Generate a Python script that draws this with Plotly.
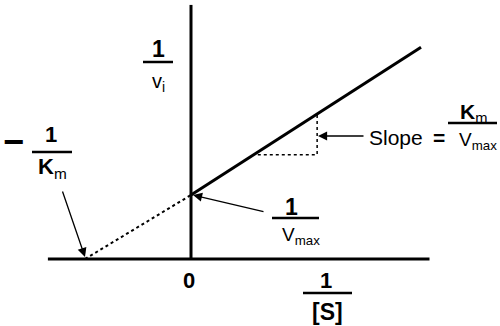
import plotly.graph_objects as go

# ---- data (reciprocal units) ----
neg_inv_km = -1.0          # x-intercept  (-1/Km)
inv_vmax = 1.0             # y-intercept  (1/Vmax)
line_end_x = 2.17          # last drawn 1/[S]
line_end_y = 3.31          # 1/vi at last drawn point
tri_x = [0.63, 1.19, 1.19]     # slope triangle (left, corner, top)
tri_y = [1.63, 1.63, 2.29]
axis_x_min, axis_x_max = -1.35, 2.25
axis_y_max = 3.97

W, H = 500, 326
X0PX, Y0PX, XS, YS = 191, 259, 106, 64
xr = [-X0PX / XS, (W - X0PX) / XS]
yr = [-(H - Y0PX) / YS, Y0PX / YS]

def px(x):  # pixel -> data (x)
    return (x - X0PX) / XS

def py(y):  # pixel -> data (y)
    return (Y0PX - y) / YS

FONT = "Liberation Sans, Arial, sans-serif"
fig = go.Figure()

# axes
fig.add_trace(go.Scatter(x=[axis_x_min, axis_x_max], y=[0, 0], mode="lines",
                         line=dict(color="black", width=3), hoverinfo="skip"))
fig.add_trace(go.Scatter(x=[0, 0], y=[0, axis_y_max], mode="lines",
                         line=dict(color="black", width=3), hoverinfo="skip"))
# solid Lineweaver-Burk line
fig.add_trace(go.Scatter(x=[0, line_end_x], y=[inv_vmax, line_end_y], mode="lines",
                         line=dict(color="black", width=3), hoverinfo="skip"))
# dotted extrapolation
fig.add_trace(go.Scatter(x=[neg_inv_km, 0], y=[0, inv_vmax], mode="lines",
                         line=dict(color="black", width=2, dash="dot"), hoverinfo="skip"))
# slope triangle
fig.add_trace(go.Scatter(x=tri_x, y=tri_y, mode="lines",
                         line=dict(color="black", width=1.5, dash="dot"), hoverinfo="skip"))

# fraction bars (pixel positions)
bars = [(32, 72, 152, 2.5), (143, 173, 62, 2.5), (272, 319, 218, 2.5),
        (448, 497, 123, 2.5), (303, 352, 293, 2.5)]
for x1, x2, y, w in bars:
    fig.add_shape(type="line", x0=px(x1), x1=px(x2), y0=py(y), y1=py(y),
                  line=dict(color="black", width=w))

def txt(s, x, y, size, bold=False, xa="center", ya="middle"):
    fig.add_annotation(x=px(x), y=py(y), text=(f"<b>{s}</b>" if bold else s),
                       showarrow=False, xanchor=xa, yanchor=ya,
                       font=dict(family=FONT, size=size, color="black"))

# -1/Km
txt("−", 13, 141, 36, bold=True)
txt("1", 51, 134, 22, bold=True)
txt("K<sub><span style='font-weight:normal'>m</span></sub>", 52, 168, 22, bold=True)
# 1/vi
txt("1", 158, 49, 23, bold=True)
txt("v<sub>i</sub>", 158, 82, 20)
# 1/Vmax
txt("1", 291, 207, 23, bold=True)
txt("V<sub>max</sub>", 301, 236, 19)
# Slope = Km/Vmax
txt("Slope", 396, 137, 21)
txt("=", 439, 137, 21, bold=True)
txt("K<sub><span style='font-weight:normal'>m</span></sub>", 473, 113, 21, bold=True)
txt("V<sub>max</sub>", 478, 141, 19)
# axis labels
txt("0", 189, 280, 22, bold=True)
txt("1", 326, 280, 22, bold=True)
txt("[S]", 327, 312, 23, bold=True)

# arrows
arrows = [((365, 136), (318, 136)), ((265, 212), (193, 195)), ((62, 190), (85, 257))]
for (tx, ty), (hx, hy) in arrows:
    fig.add_annotation(x=px(hx), y=py(hy), ax=px(tx), ay=py(ty), axref="x", ayref="y",
                       xref="x", yref="y", text="", showarrow=True,
                       arrowhead=2, arrowsize=1.4, arrowwidth=1.3, arrowcolor="black")

fig.update_layout(width=W, height=H, margin=dict(l=0, r=0, t=0, b=0),
                  paper_bgcolor="white", plot_bgcolor="white", showlegend=False,
                  xaxis=dict(range=xr, visible=False, fixedrange=True),
                  yaxis=dict(range=yr, visible=False, fixedrange=True))
fig.write_html("out.html")
